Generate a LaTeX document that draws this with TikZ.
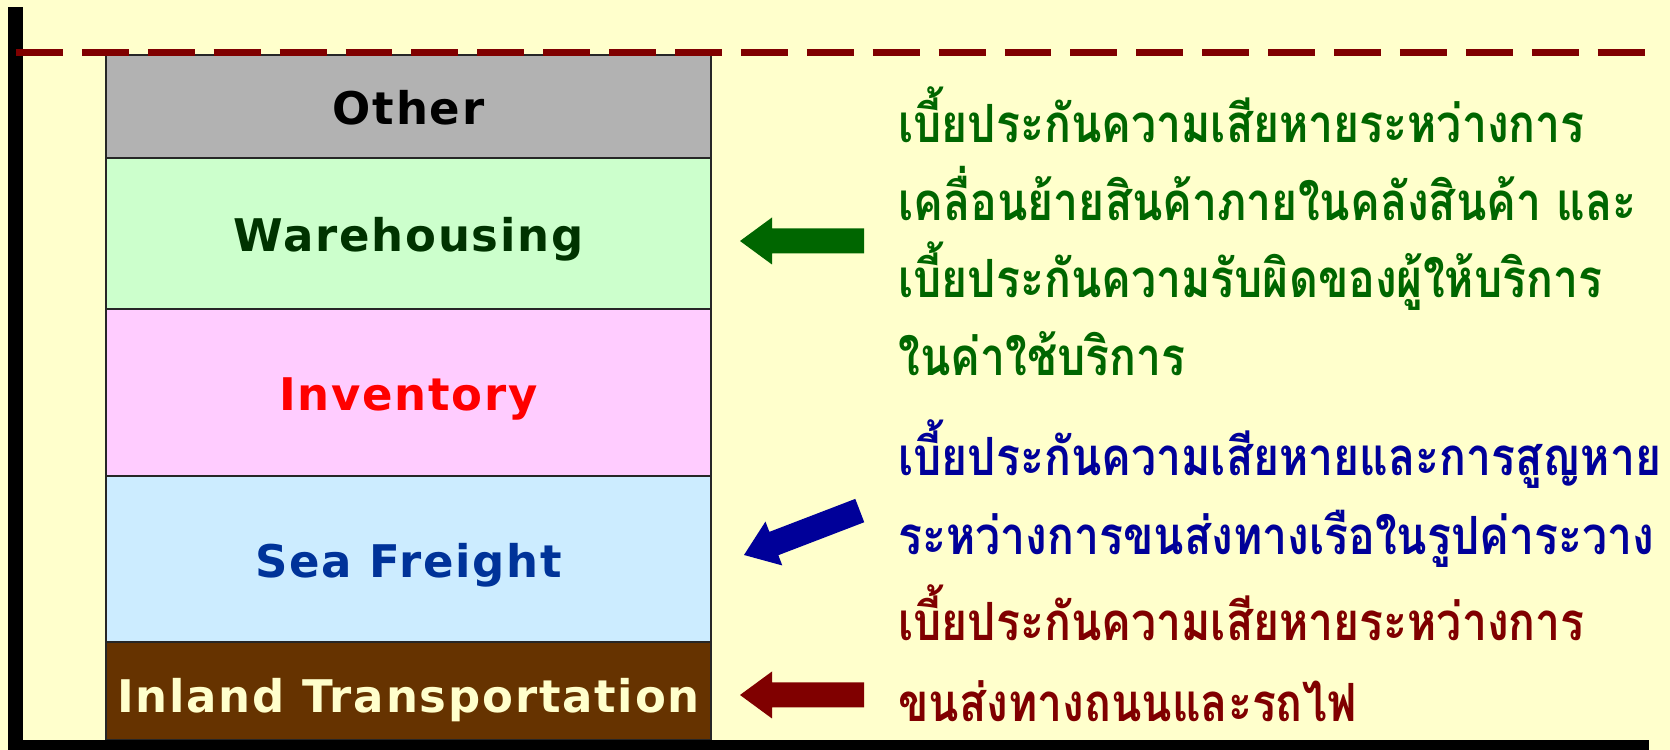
\documentclass[tikz,border=0pt]{standalone}
\usepackage{fontspec}
\newfontfamily\engfont[LetterSpace=4]{DejaVu Sans}
\newfontfamily\thaifont[Script=Thai, FakeStretch=0.845]{Loma}
\definecolor{paper}{HTML}{FFFFCC}
\definecolor{otherfill}{HTML}{B2B2B2}
\definecolor{warefill}{HTML}{CCFFCC}
\definecolor{invfill}{HTML}{FFCCFF}
\definecolor{seafill}{HTML}{CCECFF}
\definecolor{inlandfill}{HTML}{663300}
\definecolor{waretext}{HTML}{003300}
\definecolor{seatext}{HTML}{003399}
\definecolor{notegreen}{HTML}{006600}
\definecolor{noteblue}{HTML}{000099}
\definecolor{notered}{HTML}{800000}
\tikzset{
    layer/.style={draw=black!85, line width=1pt, minimum width=121mm,
        text height=20.6pt, text depth=0pt,
        font=\engfont\bfseries\fontsize{25.6}{30}\selectfont},
    note/.style={anchor=base west, inner sep=0pt,
        font=\thaifont\bfseries\fontsize{30}{34}\selectfont},
    blockarrow/.pic={
        \fill[pic actions] (0,0) -- (32,23.5) -- (32,12.5) -- (124,12.5)
            -- (124,-12.5) -- (32,-12.5) -- (32,-23.5) -- cycle;
    }
}
\begin{document}
\begin{tikzpicture}[x=.2mm, y=.2mm]
        \fill[paper] (0,0) rectangle (1670,750);
        \useasboundingbox (0,0) rectangle (1670,750);
        
        % cost layers
        \node[layer, fill=otherfill, minimum height=20.6mm] (other) at (408.5,643.5) {Other};
        \node[layer, fill=warefill, text=waretext, minimum height=30.2mm] (ware) at (408.5,516.5) {Warehousing};
        \node[layer, fill=invfill, text=red, minimum height=33.4mm] (inv) at (408.5,357.5) {Inventory};
        \node[layer, fill=seafill, text=seatext, minimum height=33.2mm] (sea) at (408.5,191) {Sea Freight};
        \node[layer, fill=inlandfill, text=paper, minimum height=19.6mm, text height=24.3pt] (inland) at (408.5,59) {Inland Transportation};
        
        % axes
        \fill (8,0) rectangle (23,743);
        \fill (8,0) rectangle (1649,10);
        \draw[notered, line width=3.8pt, dash pattern=on 26.7pt off 10.8pt] (16,697.5) -- (1648,697.5);
        
        % warehousing note
        \pic[fill=notegreen] at (740,509) {blockarrow};
        \node[note, text=notegreen] (ware1) at (898,607) {เบี้ยประกันความเสียหายระหว่างการ};
        \node[note, text=notegreen] (ware2) at (898,529) {เคลื่อนย้ายสินค้าภายในคลังสินค้า และ};
        \node[note, text=notegreen] (ware3) at (898,452) {เบี้ยประกันความรับผิดของผู้ให้บริการ};
        \node[note, text=notegreen] (ware4) at (898,374) {ในค่าใช้บริการ};
        
        % sea freight note
        \pic[fill=noteblue, rotate=21] at (744,195) {blockarrow};
        \node[note, text=noteblue] (sea1) at (898,274) {เบี้ยประกันความเสียหายและการสูญหาย};
        \node[note, text=noteblue] (sea2) at (898,195) {ระหว่างการขนส่งทางเรือในรูปค่าระวาง};
        
        % inland note
        \pic[fill=notered] at (740,55) {blockarrow};
        \node[note, text=notered] (inland1) at (898,109) {เบี้ยประกันความเสียหายระหว่างการ};
        \node[note, text=notered] (inland2) at (898,28) {ขนส่งทางถนนและรถไฟ};
    \end{tikzpicture}
\end{document}
